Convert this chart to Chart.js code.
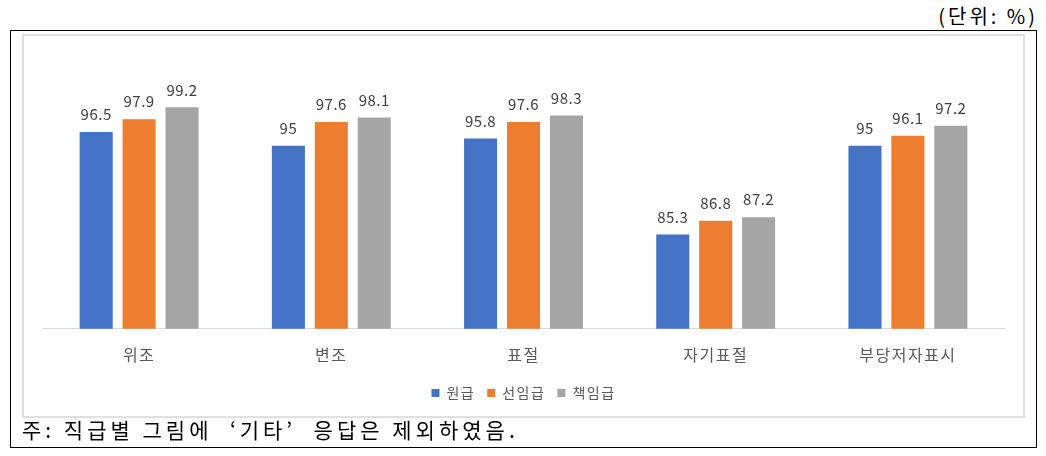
<!DOCTYPE html>
<html>
<head>
<meta charset="utf-8">
<script src="https://cdn.jsdelivr.net/npm/chart.js@4"></script>
<style>
    body { margin: 0; background: #fff; width: 1046px; height: 456px; position: relative; overflow: hidden; }
    #unit { position: absolute; right: 8px; top: 1px; font: 20px "Noto Sans CJK KR", sans-serif; letter-spacing: 3px; color: #000; }
    #outer { position: absolute; left: 10px; top: 30px; width: 1027px; height: 418px; border: 1.5px solid #000; box-sizing: border-box; }
    #frame { position: absolute; left: 22px; top: 34px; width: 1003px; height: 384px; border: 2px solid #e0e0e0; box-sizing: border-box; }
    #note { position: absolute; left: 22px; top: 414px; font: 21px "Noto Sans CJK KR", serif; letter-spacing: 4px; color: #000; white-space: pre; }
    #chartBox { position: absolute; left: 22px; top: 34px; width: 1003px; height: 384px; }
</style>
</head>
<body>
<div id="unit">(단위: %)</div>
<div id="outer"></div>
<div id="frame"></div>
<div id="chartBox"><canvas id="chartCanvas"></canvas></div>
<div id="note">주: 직급별 그림에  ‘기타’  응답은 제외하였음.</div>
<script>
const categories = ['위조', '변조', '표절', '자기표절', '부당저자표시'];
const seriesNames = ['원급', '선임급', '책임급'];
const wonValues = [96.5, 95, 95.8, 85.3, 95];
const seonValues = [97.9, 97.6, 97.6, 86.8, 96.1];
const chaekValues = [99.2, 98.1, 98.3, 87.2, 97.2];
const colors = ['#4472C4', '#ED7D31', '#A5A5A5'];

// letter spacing to get closer to the wide office fonts
const spacing = {
    id: 'spacing',
    beforeUpdate(chart) { chart.ctx.letterSpacing = '1.5px'; },
    beforeDraw(chart) {
        chart.ctx.letterSpacing = '1.5px';
        const xs = chart.scales.x;
        if (xs && !xs._wrapped) {
            const orig = xs.draw;
            xs.draw = function (area) {
                const c = this.ctx;
                c.save();
                c.letterSpacing = '5px';
                orig.call(this, area);
                c.restore();
            };
            xs._wrapped = true;
        }
    }
};

const valueLabels = {
    id: 'valueLabels',
    afterDatasetsDraw(chart) {
        const ctx = chart.ctx;
        ctx.save();
        ctx.letterSpacing = '0.5px';
        ctx.font = '15px "Noto Sans CJK KR", sans-serif';
        ctx.fillStyle = '#404040';
        ctx.textAlign = 'center';
        ctx.textBaseline = 'bottom';
        chart.data.datasets.forEach((ds, i) => {
            const meta = chart.getDatasetMeta(i);
            meta.data.forEach((bar, j) => {
                ctx.fillText(String(ds.data[j]), bar.x, bar.y - 10);
            });
        });
        ctx.restore();
    }
};

const ctx = document.getElementById('chartCanvas').getContext('2d');
new Chart(ctx, {
    type: 'bar',
    data: {
        labels: categories,
        datasets: [
            { label: seriesNames[0], data: wonValues, backgroundColor: colors[0] },
            { label: seriesNames[1], data: seonValues, backgroundColor: colors[1] },
            { label: seriesNames[2], data: chaekValues, backgroundColor: colors[2] }
        ]
    },
    options: {
        responsive: true,
        maintainAspectRatio: false,
        animation: false,
        categoryPercentage: 0.67,
        barPercentage: 0.77,
        layout: { padding: { left: 21, right: 21, top: 66, bottom: 8 } },
        scales: {
            x: {
                grid: { display: false, drawTicks: false },
                border: { color: '#d9d9d9' },
                ticks: { color: '#595959', font: { size: 16, family: '"Noto Sans CJK KR", sans-serif' }, padding: 17 },
                afterFit(scale) { scale.height -= 8; }
            },
            y: {
                display: false,
                min: 75,
                max: 100
            }
        },
        plugins: {
            legend: {
                position: 'bottom',
                labels: {
                    boxWidth: 8,
                    boxHeight: 8,
                    color: '#595959',
                    font: { size: 14, family: '"Noto Sans CJK KR", sans-serif' },
                    padding: 12
                }
            },
            tooltip: { enabled: false }
        }
    },
    plugins: [spacing, valueLabels]
});
</script>
</body>
</html>
